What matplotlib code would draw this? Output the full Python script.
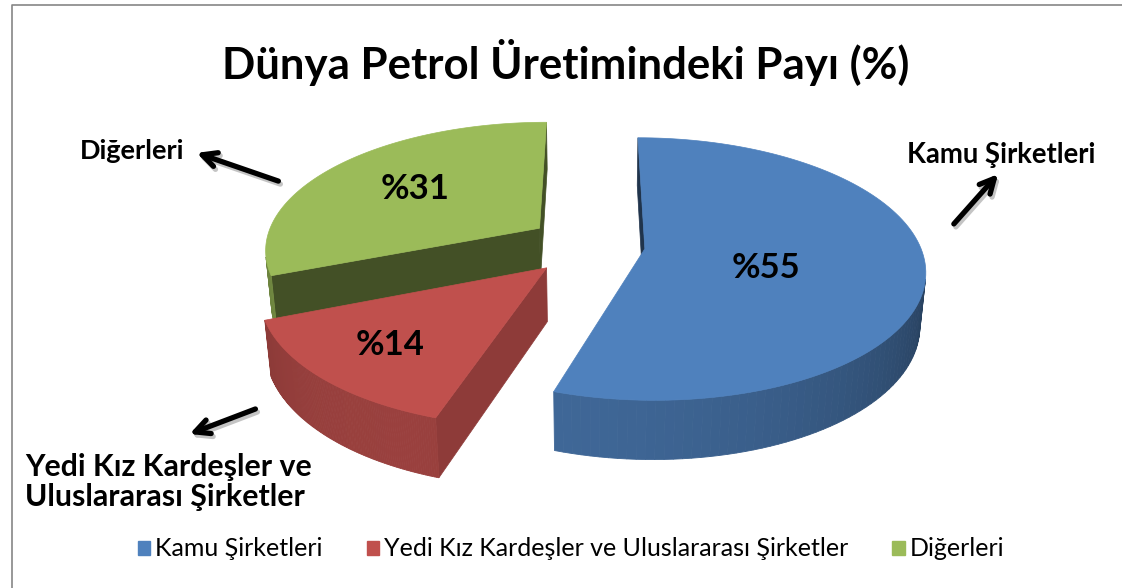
import numpy as np
import matplotlib.pyplot as plt
from matplotlib.patches import Polygon, Patch
from matplotlib.colors import to_rgb

# veriler
labels = ['Kamu Şirketleri', 'Yedi Kız Kardeşler ve Uluslararası Şirketler', 'Diğerleri']
values = [55, 14, 31]
colors = ['#4F81BD', '#C0504D', '#9BBB59']
pct_text = ['%55', '%14', '%31']
title = 'Dünya Petrol Üretimindeki Payı (%)'

W, H = 1122, 588
plt.rcParams['font.family'] = ['Lato', 'DejaVu Sans']
fig = plt.figure(figsize=(W / 100, H / 100), dpi=100)
ax = fig.add_axes([0, 0, 1, 1])
ax.set_xlim(0, W)
ax.set_ylim(H, 0)
ax.axis('off')

# 3B görünüm ayarları
alpha = np.radians(27.5)
D = 5.78
f = 275 * D
cx, cy = 593, 245
thick = 0.22
explode = [0.19, 0.24, 0.24]
face_shade = [0.4, 0.74, 0.43]
label_r = [0.45, 0.72, 0.6]
label_frac = [0.55, 0.5, 0.5]
cam = np.array([0, -D * np.cos(alpha), D * np.sin(alpha)])


def proj(x, y, z):
    zc = D + y * np.cos(alpha) - z * np.sin(alpha)
    yc = y * np.sin(alpha) + z * np.cos(alpha)
    return cx + f * x / zc, cy - f * yc / zc


def shade(c, k):
    return tuple(min(1, v * k) for v in to_rgb(c))


def visible(p, n):
    return np.dot(cam - p, n) > 0


bounds = np.concatenate([[0], np.cumsum(values)]) / sum(values) * 360

for i in [2, 1, 0]:
    a1, a2 = np.radians(bounds[i]), np.radians(bounds[i + 1])
    mid = (a1 + a2) / 2
    ox, oy = explode[i] * np.sin(mid), explode[i] * np.cos(mid)
    th = np.linspace(a1, a2, 120)
    rx, ry = ox + np.sin(th), oy + np.cos(th)

    # kesit yüzleri
    for a, nrm in [(a1, a1 - np.pi / 2), (a2, a2 + np.pi / 2)]:
        n = np.array([np.sin(nrm), np.cos(nrm), 0])
        if visible(np.array([ox, oy, 0]), n):
            pts = [proj(ox, oy, 0), proj(ox + np.sin(a), oy + np.cos(a), 0),
                   proj(ox + np.sin(a), oy + np.cos(a), -thick), proj(ox, oy, -thick)]
            c = shade(colors[i], face_shade[i])
            ax.add_patch(Polygon(pts, closed=True, fc=c, ec=c, lw=0.5))

    # dış duvar
    for j in range(len(th) - 1):
        t = (th[j] + th[j + 1]) / 2
        n = np.array([np.sin(t), np.cos(t), 0])
        p = np.array([ox + np.sin(t), oy + np.cos(t), -thick / 2])
        if not visible(p, n):
            continue
        k = 0.55 + 0.25 * np.cos(t - np.radians(205))
        c = shade(colors[i], k)
        pts = [proj(rx[j], ry[j], 0), proj(rx[j + 1], ry[j + 1], 0),
               proj(rx[j + 1], ry[j + 1], -thick), proj(rx[j], ry[j], -thick)]
        ax.add_patch(Polygon(pts, closed=True, fc=c, ec=c, lw=0.6))

    # üst yüzey
    top = [proj(ox, oy, 0)] + [proj(x, y, 0) for x, y in zip(rx, ry)]
    ax.add_patch(Polygon(top, closed=True, fc=colors[i], ec=colors[i], lw=0.5))

    la = a1 + label_frac[i] * (a2 - a1)
    lx, ly = proj(ox + label_r[i] * np.sin(la), oy + label_r[i] * np.cos(la), 0)
    ax.text(lx, ly, pct_text[i], ha='center', va='center', fontsize=25,
            fontweight='bold', color='black')

# başlık
ax.text(566, 62, title, ha='center', va='center', fontsize=31.5, fontweight='bold')

# oklar ve etiketler
arrows = [((281, 182), (194, 152)), ((952, 226), (1000, 172)), ((258, 408), (187, 435))]
for tail, head in arrows:
    ax.annotate('', xy=(head[0] + 2, head[1] + 3), xytext=(tail[0] + 2, tail[1] + 3),
                arrowprops=dict(arrowstyle='->', lw=3.8, color='#C4C4C4', mutation_scale=26))
    ax.annotate('', xy=head, xytext=tail,
                arrowprops=dict(arrowstyle='->', lw=3.8, color='black', mutation_scale=26))

ax.text(80, 151, 'Diğerleri', ha='left', va='center', fontsize=19.5, fontweight='bold')
ax.text(907, 155, 'Kamu Şirketleri', ha='left', va='center', fontsize=19.8, fontweight='bold')
ax.text(25, 482, 'Yedi Kız Kardeşler ve\nUluslararası Şirketler', ha='left', va='center',
        fontsize=21.8, fontweight='bold', linespacing=1.12)

# çerçeve
ax.plot([12, 12, W], [H, 5, 5], color='#868686', lw=1.2)

handles = [Patch(facecolor=c, edgecolor=c) for c in colors]
ax.legend(handles, labels, loc='center', bbox_to_anchor=(571 / W, 1 - 549 / H), ncol=3,
          frameon=False, fontsize=18, handlelength=0.5, handleheight=0.5,
          handletextpad=0.2, columnspacing=1.75)

fig.savefig('out.png', dpi=100)
